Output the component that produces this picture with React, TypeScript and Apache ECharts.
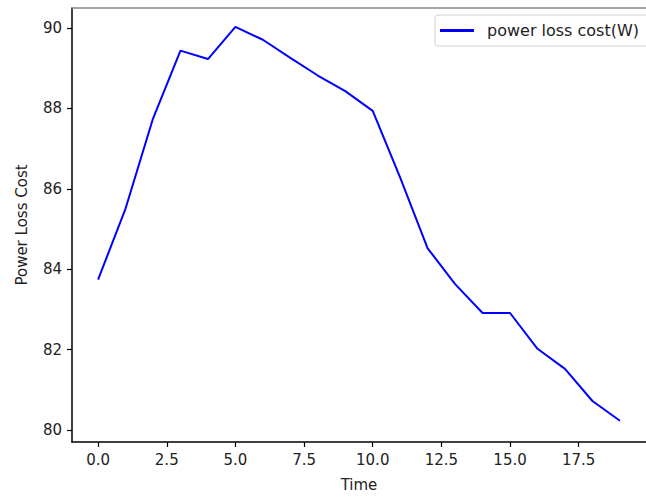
import React, { useEffect, useRef } from "react";
import * as echarts from "echarts";

const times = [0, 1, 2, 3, 4, 5, 6, 7, 8, 9, 10, 11, 12, 13, 14, 15, 16, 17, 18, 19];
const powerLoss = [83.74, 85.51, 87.75, 89.44, 89.23, 90.03, 89.71, 89.26, 88.82, 88.43, 87.94, 86.28, 84.52, 83.63, 82.91, 82.91, 82.02, 81.52, 80.72, 80.23];
const xTicks = [0, 2.5, 5, 7.5, 10, 12.5, 15, 17.5];
const yTicks = [80, 82, 84, 86, 88, 90];
const seriesName = "power loss cost(W)";

const FONT = "DejaVu Sans";

export default function App() {
  const ref = useRef<HTMLDivElement>(null);
  useEffect(() => {
    if (!ref.current) return;
    const chart = echarts.init(ref.current, undefined, { renderer: "svg" });
    chart.setOption({
      animation: false,
      backgroundColor: "#ffffff",
      textStyle: { fontFamily: FONT },
      grid: { left: 72, top: 8, width: 585, height: 437, containLabel: false },
      legend: {
        left: 435,
        top: 15,
        padding: [7, 10, 7, 5],
        backgroundColor: "#ffffff",
        borderColor: "#d0d0d0",
        borderWidth: 1,
        borderRadius: 3,
        icon: "rect",
        itemWidth: 34,
        itemHeight: 3,
        textStyle: { fontFamily: FONT, fontSize: 16, color: "#222", padding: [0, 0, 0, 8], lineHeight: 17 },
        data: [seriesName],
      },
      xAxis: [
        {
          type: "value",
          min: -0.95,
          max: 19.95,
          name: "Time",
          nameLocation: "middle",
          nameGap: 35,
          nameTextStyle: { fontFamily: FONT, fontSize: 15, color: "#222" },
          splitLine: { show: false },
          axisLine: { show: true, onZero: false, lineStyle: { color: "#000", width: 1.5 } },
          axisTick: { show: true, length: 5, customValues: xTicks, lineStyle: { color: "#000", width: 1.2 } },
          axisLabel: {
            margin: 10,
            fontFamily: FONT,
            fontSize: 15,
            color: "#222",
            customValues: xTicks,
            formatter: (v: number) => v.toFixed(1),
          },
        },
        {
          type: "value",
          position: "top",
          min: -0.95,
          max: 19.95,
          splitLine: { show: false },
          axisLine: { show: true, onZero: false, lineStyle: { color: "#888", width: 1.5 } },
          axisTick: { show: false },
          axisLabel: { show: false },
        },
      ],
      yAxis: {
        type: "value",
        min: 79.7,
        max: 90.5,
        name: "Power Loss Cost",
        nameLocation: "middle",
        nameGap: 43,
        nameTextStyle: { fontFamily: FONT, fontSize: 15, color: "#222" },
        splitLine: { show: false },
        axisLine: { show: true, onZero: false, lineStyle: { color: "#000", width: 1.5 } },
        axisTick: { show: true, length: 5, customValues: yTicks, lineStyle: { color: "#000", width: 1.2 } },
        axisLabel: {
          margin: 10,
          fontFamily: FONT,
          fontSize: 15,
          color: "#222",
          customValues: yTicks,
          formatter: (v: number) => String(Math.round(v)),
        },
      },
      series: [
        {
          name: seriesName,
          type: "line",
          data: times.map((t, i) => [t, powerLoss[i]]),
          showSymbol: false,
          symbol: "none",
          lineStyle: { color: "#0000ff", width: 2 },
          itemStyle: { color: "#0000ff" },
        },
      ],
    });
    return () => chart.dispose();
  }, []);
  return <div ref={ref} style={{ width: 646, height: 497, position: "absolute", left: 0, top: 0 }} />;
}
